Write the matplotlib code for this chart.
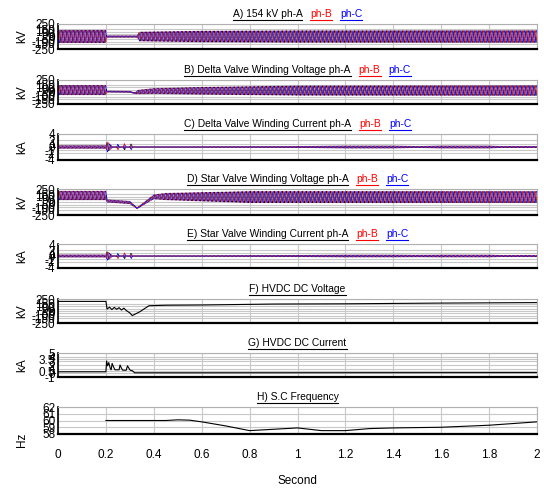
import numpy as np
import matplotlib
matplotlib.use("Agg")
import matplotlib.pyplot as plt
from matplotlib.lines import Line2D

plt.rcParams["font.family"] = ["Liberation Sans", "DejaVu Sans"]
plt.rcParams["axes.unicode_minus"] = False

# ---- data ------------------------------------------------------------------
f_sys = 60.0          # Hz, carrier of the ac traces
t = np.linspace(0, 2, 4801)

# A) 154 kV bus: peak envelope (kV) and centre (kV) at key times
busA_t = [0, 0.2, 0.202, 0.33, 0.34, 0.45, 0.6, 1.0, 2.0]
busA_amp = [126, 126, 15, 15, 92, 100, 110, 118, 120]
busA_ctr = [0, 0, 0, 0, 0, 0, 0, 0, 0]

# B) delta valve winding voltage
dVv_t = [0, 0.2, 0.203, 0.3, 0.32, 0.335, 0.4, 0.6, 1.0, 2.0]
dVv_amp = [100, 100, 12, 12, 10, 40, 55, 75, 100, 105]
dVv_ctr = [40, 40, 10, 5, -25, 0, 20, 25, 30, 30]

# C) delta valve winding current, kA
dVi_t = [0, 0.2, 0.205, 0.215, 0.228, 0.245, 0.25, 0.256, 0.272, 0.277, 0.284,
         0.3, 0.305, 0.312, 0.33, 0.6, 0.9, 1.0, 1.2, 1.4, 1.5, 1.6, 1.8, 1.85, 2.0]
dVi_amp = [0.45, 0.45, 1.6, 1.0, 0.05, 0.05, 1.0, 0.05, 0.05, 1.1, 0.05,
           0.05, 1.0, 0.05, 0.05, 0.1, 0.15, 0.2, 0.35, 0.35, 0.2, 0.35, 0.35, 0.2, 0.2]

# D) star valve winding voltage
sVv_t = [0, 0.2, 0.205, 0.3, 0.33, 0.4, 0.45, 0.8, 2.0]
sVv_amp = [85, 85, 25, 25, 10, 40, 65, 110, 110]
sVv_ctr = [125, 125, 20, -10, -120, 100, 105, 95, 95]

# E) star valve winding current, kA
sVi_t = dVi_t
sVi_amp = [0.4, 0.4, 1.5, 1.0, 0.05, 0.05, 1.0, 0.05, 0.05, 1.1, 0.05,
           0.05, 1.0, 0.05, 0.05, 0.1, 0.2, 0.25, 0.35, 0.35, 0.3, 0.35, 0.35, 0.25, 0.25]

# F) HVDC dc voltage, kV
dcV_t = [0, 0.2, 0.205, 0.215, 0.225, 0.235, 0.245, 0.255, 0.265, 0.275,
         0.285, 0.3, 0.31, 0.34, 0.38, 0.45, 0.6, 0.9, 1.2, 1.6, 2.0]
dcV = [200, 200, 40, 80, 30, 75, 35, 70, 20, 60, 10, -40, -95, -20, 110,
       120, 125, 145, 150, 165, 175]

# G) HVDC dc current, kA
dcI_t = [0, 0.2, 0.203, 0.207, 0.212, 0.218, 0.222, 0.226, 0.232, 0.238, 0.255,
         0.259, 0.265, 0.27, 0.285, 0.29, 0.3, 0.305, 0.31, 0.32, 0.6, 2.0]
dcI = [0.3, 0.3, 3.0, 1.8, 2.6, 1.2, 0.8, 2.4, 1.5, 0.8, 0.8, 2.0, 1.2, 0.7,
       0.7, 1.8, 0.8, 0.6, 0.6, 0.05, 0.05, 0.1]

# H) S.C frequency, Hz
freq_t = [0.2, 0.45, 0.5, 0.55, 0.6, 0.7, 0.8, 0.9, 1.0, 1.1, 1.2, 1.3, 1.4,
          1.6, 1.8, 2.0]
freq = [60, 60, 60.1, 60.05, 59.8, 59.2, 58.5, 58.7, 58.9, 58.5, 58.5, 58.8,
        58.9, 59.0, 59.3, 59.8]

titles = ["A) 154 kV ph-A", "B) Delta Valve Winding Voltage ph-A",
          "C) Delta Valve Winding Current ph-A", "D) Star Valve Winding Voltage ph-A",
          "E) Star Valve Winding Current ph-A", "F) HVDC DC Voltage",
          "G) HVDC DC Current", "H) S.C Frequency"]
units = ["kV", "kV", "kA", "kV", "kA", "kV", "kA", "Hz"]
x_ticks = [0, 0.2, 0.4, 0.6, 0.8, 1, 1.2, 1.4, 1.6, 1.8, 2]
x_labels = ["0", "0.2", "0.4", "0.6", "0.8", "1", "1.2", "1.4", "1.6", "1.8", "2"]
kv_ticks = [-250, -150, -100, -50, 0, 50, 100, 150, 250]
ka_ticks = [-4, -2, -1, 0, 1, 2, 4]
dci_ticks = [-1, 0, 0.5, 1, 2, 3, 3.5, 4, 5]
hz_ticks = [58, 59, 60, 61, 62]

# ---- helpers ----------------------------------------------------------------
shifts = [0, -2 * np.pi / 3, 2 * np.pi / 3]
ph_colors = ["black", "red", "blue"]


def three_phase(tk, amp, ctr=None):
    env = np.interp(t, tk, amp)
    mid = np.interp(t, tk, ctr) if ctr is not None else 0
    return [mid + env * np.sin(2 * np.pi * f_sys * t + s) for s in shifts]


def set_yt(ax, ticks):
    ax.set_yticks(ticks)
    ax.set_yticklabels(["%g" % v for v in ticks])


W, H = 544, 488
fig = plt.figure(figsize=(W / 100, H / 100), dpi=100)
tops = [24, 80, 134, 189, 244, 299, 353, 407]
bots = [49, 104, 160, 215, 268, 323, 377, 434]
left, right = 58, 537

axes = []
for i in range(8):
    ax = fig.add_axes([left / W, 1 - bots[i] / H, (right - left) / W,
                       (bots[i] - tops[i]) / H])
    ax.set_xlim(0, 2)
    ax.set_xticks(x_ticks)
    ax.grid(True, color="#c8c8c8", lw=0.8)
    ax.set_axisbelow(True)
    for s in ["top", "right"]:
        ax.spines[s].set_color("#b0b0b0")
        ax.spines[s].set_linewidth(0.8)
    ax.spines["bottom"].set_linewidth(1.6)
    ax.spines["left"].set_linewidth(1.2)
    ax.tick_params(length=0, labelsize=8.5, pad=2)
    ax.set_ylabel(units[i], fontsize=8.5)
    ax.yaxis.set_label_coords(-0.062, 0.5)
    if i < 7:
        ax.set_xticklabels([])
    else:
        ax.set_xticklabels(x_labels)
        ax.tick_params(axis="x", pad=11)
        ax.set_xlabel("Second", fontsize=8.5, labelpad=10)
        ax.yaxis.set_label_coords(-0.062, -0.2)
    axes.append(ax)

ac_sets = [three_phase(busA_t, busA_amp, busA_ctr),
           three_phase(dVv_t, dVv_amp, dVv_ctr),
           three_phase(dVi_t, dVi_amp),
           three_phase(sVv_t, sVv_amp, sVv_ctr),
           three_phase(sVi_t, sVi_amp)]
for i, waves in enumerate(ac_sets):
    for w, c in zip(waves, ph_colors):
        axes[i].plot(t, w, color=c, lw=0.45)

for i in (0, 1, 3, 5):
    axes[i].set_ylim(-250, 250)
    set_yt(axes[i], kv_ticks)
for i in (2, 4):
    axes[i].set_ylim(-4, 4)
    set_yt(axes[i], ka_ticks)

axes[5].plot(dcV_t, dcV, color="black", lw=0.8)
axes[6].plot(dcI_t, dcI, color="black", lw=0.8)
axes[6].set_ylim(-1, 5)
set_yt(axes[6], dci_ticks)
axes[7].plot(freq_t, freq, color="black", lw=0.8)
axes[7].set_ylim(58, 62)
set_yt(axes[7], hz_ticks)

# ---- underlined titles with coloured phase names ----------------------------
renderer = fig.canvas.get_renderer()
cx = (left + right) / 2
gap = 8
for i in range(8):
    parts = [(titles[i], "black")]
    if i < 5:
        parts += [("ph-B", "red"), ("ph-C", "blue")]
    yc = H - (tops[i] - 10)
    objs = [fig.text(0, yc / H, s, color=c, fontsize=7.4, va="center", ha="left")
            for s, c in parts]
    widths = [o.get_window_extent(renderer).width for o in objs]
    x = cx - (sum(widths) + gap * (len(objs) - 1)) / 2
    for o, w, (s, c) in zip(objs, widths, parts):
        o.set_x(x / W)
        yl = (H - (tops[i] - 4.5)) / H
        fig.add_artist(Line2D([x / W, (x + w) / W], [yl, yl],
                              transform=fig.transFigure, color=c, lw=0.8))
        x += w + gap

fig.savefig("out.png", dpi=100)
